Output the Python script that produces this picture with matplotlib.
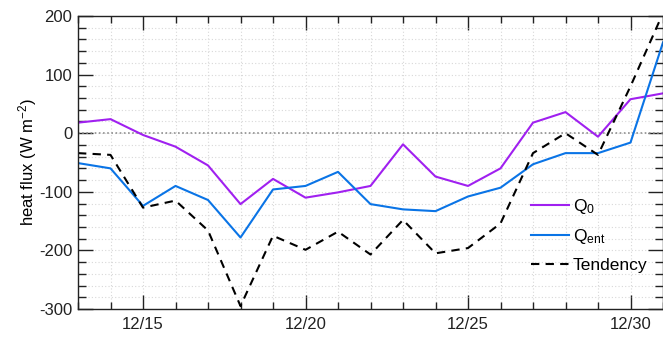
import matplotlib
matplotlib.use('Agg')
import matplotlib.pyplot as plt
from matplotlib.ticker import MultipleLocator, FixedLocator, FixedFormatter

plt.rcParams['font.family'] = ['Liberation Sans', 'DejaVu Sans']
plt.rcParams['mathtext.default'] = 'regular'
plt.rcParams['axes.unicode_minus'] = False

# December day numbers
days = [13, 14, 15, 16, 17, 18, 19, 20, 21, 22, 23, 24, 25, 26, 27, 28, 29, 30, 31]

q0 = [18, 24, -3, -23, -55, -121, -78, -110, -101, -90, -19, -74, -90, -60, 18, 36, -6, 58, 68]
qent = [-51, -60, -124, -90, -114, -178, -96, -90, -66, -121, -130, -133, -108, -93, -53, -34, -34, -16, 155]
tendency = [-34, -37, -127, -115, -166, -295, -175, -199, -168, -207, -148, -205, -196, -154, -34, 0, -37, 80, 205]

tick_days = [15, 20, 25, 30]
tick_labels = ['12/15', '12/20', '12/25', '12/30']

fig = plt.figure(figsize=(6.63, 3.37), dpi=100)
ax = fig.add_axes([78 / 663, 1 - 309 / 337, 1 - 78 / 663, (309 - 16) / 337])

ax.plot(days, q0, color='#a020f0', lw=1.5, label='Q$_0$')
ax.plot(days, qent, color='#0a74e6', lw=1.5, label='Q$_{ent}$')
ax.plot(days, tendency, color='black', lw=1.5, ls=(0, (4, 3)), label='Tendency')

ax.axhline(0, color='#909090', lw=1.2, ls=(0, (1, 1.5)), zorder=1)

ax.set_xlim(13, 31)
ax.set_ylim(-300, 200)

ax.xaxis.set_major_locator(FixedLocator(tick_days))
ax.xaxis.set_major_formatter(FixedFormatter(tick_labels))
ax.xaxis.set_minor_locator(MultipleLocator(1))
ax.yaxis.set_major_locator(MultipleLocator(100))
ax.yaxis.set_minor_locator(MultipleLocator(20))

ax.grid(which='both', color='#d8d8d8', lw=0.8, ls=(0, (1, 2)), zorder=0)
ax.set_axisbelow(True)

ax.tick_params(axis='both', which='both', direction='in', top=True, right=True,
               labelsize=12, colors='#222222', width=1.0)
ax.tick_params(axis='x', which='major', length=10, pad=6)
ax.tick_params(axis='x', which='minor', length=5)
ax.tick_params(axis='y', which='major', length=11, pad=4)
ax.tick_params(axis='y', which='minor', length=6)
for s in ax.spines.values():
    s.set_linewidth(1.0)
    s.set_color('#222222')

ax.set_ylabel('heat flux (W m$^{-2}$)', fontsize=12, labelpad=0)

ax.legend(loc='lower right', bbox_to_anchor=(0.985, 0.10), frameon=False, fontsize=12.5,
          handlelength=2.2, handletextpad=0.2, labelspacing=0.65, borderaxespad=0)

fig.savefig('out.png', dpi=100)
